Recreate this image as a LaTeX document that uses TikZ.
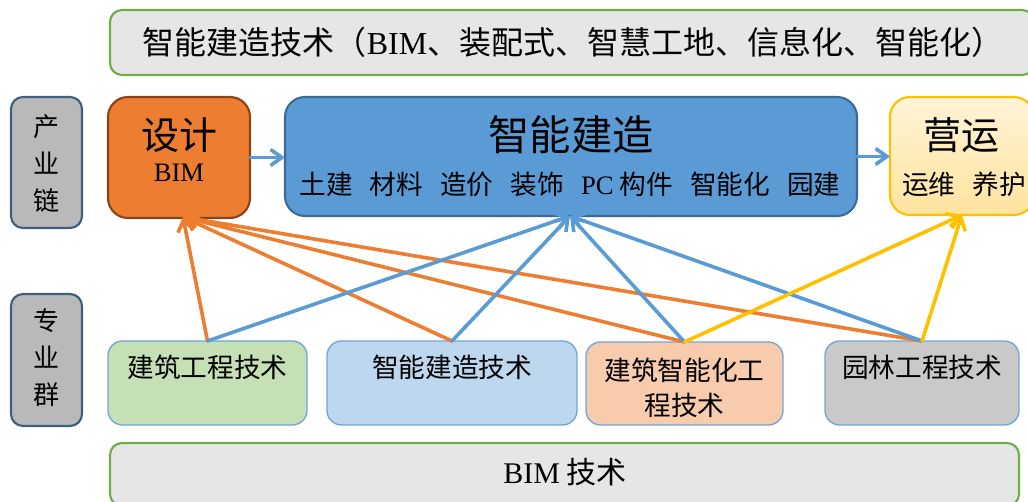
\documentclass[tikz,border=0pt]{standalone}
\usepackage{fontspec}
\setmainfont{Noto Sans CJK SC}
\newfontfamily\latin{Liberation Serif}
\usetikzlibrary{arrows.meta}

\definecolor{panelgray}{HTML}{E7E6E6}
\definecolor{panelgreen}{HTML}{70AD47}
\definecolor{sidegray}{HTML}{B9B9B9}
\definecolor{sideedge}{HTML}{3C5F82}
\definecolor{designfill}{HTML}{ED7D31}
\definecolor{designedge}{HTML}{8A4517}
\definecolor{buildfill}{HTML}{5B9BD5}
\definecolor{buildedge}{HTML}{3B6A98}
\definecolor{opstop}{HTML}{FFF4D8}
\definecolor{opsbottom}{HTML}{FFE39E}
\definecolor{opsedge}{HTML}{FFC000}
\definecolor{majoredge}{HTML}{6FA5DA}
\definecolor{civilfill}{HTML}{C5E0B4}
\definecolor{smartfill}{HTML}{BDD7EE}
\definecolor{elecfill}{HTML}{F8CBAD}
\definecolor{gardenfill}{HTML}{C9C9C9}
\definecolor{arroworange}{HTML}{ED7D31}
\definecolor{arrowblue}{HTML}{5B9BD5}
\definecolor{arrowyellow}{HTML}{FFC000}

\newcommand{\fs}[1]{\fontsize{#1}{#1}\selectfont}
\newcommand{\gap}{\hspace{0.64em}}

\tikzset{
  box/.style={inner sep=0pt, outer sep=0pt, line width=1.6pt},
  panel/.style={box, rounded corners=9pt, fill=panelgray, draw=panelgreen},
  sidebox/.style={box, rounded corners=9pt, fill=sidegray, draw=sideedge},
  majorbox/.style={box, rounded corners=11pt, draw=majoredge, line width=1pt},
  label/.style={inner sep=0pt, outer sep=0pt, text=black},
  link/.style={line width=2.7pt, line cap=round,
    -{Straight Barb[length=8.5pt,width=12pt,line width=2.7pt]}},
}

\begin{document}
\begin{tikzpicture}[x=0.75pt,y=-0.75pt]
\useasboundingbox (0,0) rectangle (1028,502);
\clip (0,0) rectangle (1028,502);

% framing technology bands
\node[panel, minimum width={924*0.75pt}, minimum height={65*0.75pt}] (tech) at (572,42.5) {};
\node[label] (techtext) at (573,42) {\fs{24pt}智能建造技术（{\latin BIM}、装配式、智慧工地、信息化、智能化）};

\node[panel, minimum width={909*0.75pt}, minimum height={63*0.75pt}] (bim) at (564.5,474.5) {};
\node[label] (bimtext) at (565,472) {\fs{22.5pt}{\latin BIM} 技术};

% side labels
\node[sidebox, minimum width={71*0.75pt}, minimum height={131*0.75pt}] (chain) at (46.5,162.5) {};
\node[label, align=center, font=\fontsize{19.5pt}{27.75pt}\selectfont] (chaintext) at (46.5,163) {产\\业\\链};
\node[sidebox, minimum width={71*0.75pt}, minimum height={132*0.75pt}] (group) at (46.5,360) {};
\node[label, align=center, font=\fontsize{19.5pt}{27.75pt}\selectfont] (grouptext) at (46.5,358) {专\\业\\群};

% industry chain
\node[box, rounded corners=15pt, fill=designfill, draw=designedge,
      minimum width={142*0.75pt}, minimum height={121*0.75pt}] (design) at (179,157.5) {};
\node[label] (designtitle) at (179,135) {\fs{28.5pt}设计};
\node[label] (designsub) at (179,173) {\fs{20pt}\latin BIM};

\node[box, rounded corners=15pt, fill=buildfill, draw=buildedge,
      minimum width={572*0.75pt}, minimum height={119*0.75pt}] (build) at (571,156.5) {};
\node[label] (buildtitle) at (571,135) {\fs{31pt}智能建造};
\node[label] (buildsub) at (570,184) {\fs{20pt}土建\gap 材料\gap 造价\gap 装饰\gap{\latin PC} 构件\gap 智能化\gap 园建};

\node[box, rounded corners=15pt, top color=opstop, bottom color=opsbottom, draw=opsedge,
      minimum width={144*0.75pt}, minimum height={118*0.75pt}] (ops) at (962,156) {};
\node[label] (opstitle) at (961,135) {\fs{28.5pt}营运};
\node[label] (opssub) at (964,184) {\fs{20pt}运维\gap 养护};

% majors
\node[majorbox, fill=civilfill, minimum width={199*0.75pt}, minimum height={84*0.75pt}] (civil) at (207.5,383) {};
\node[label] (civiltext) at (207.5,367) {\fs{20pt}建筑工程技术};
\node[majorbox, fill=smartfill, minimum width={250*0.75pt}, minimum height={84*0.75pt}] (smart) at (452,383) {};
\node[label] (smarttext) at (452,367) {\fs{20pt}智能建造技术};
\node[majorbox, fill=elecfill, minimum width={197*0.75pt}, minimum height={83*0.75pt}] (elec) at (684.5,383.5) {};
\node[label, align=center, font=\fontsize{20pt}{26.25pt}\selectfont] (electext) at (684.5,387.5) {建筑智能化工\\程技术};
\node[majorbox, fill=gardenfill, minimum width={194*0.75pt}, minimum height={84*0.75pt}] (garden) at (922,383) {};
\node[label] (gardentext) at (922,367) {\fs{20pt}园林工程技术};

% arrow targets on the chain boxes
\coordinate (designin) at (183,217);
\coordinate (buildin) at (570,216);
\coordinate (opsin) at (962,215);

% chain flow
\draw[link, arrowblue] (design.east) -- (design.east -| build.west);
\draw[link, arrowblue] (build.east) -- (build.east -| ops.west);

% majors feeding design
\draw[link, arroworange] (civil.north) -- (designin);
\draw[link, arroworange] (smart.north) -- (designin);
\draw[link, arroworange] (elec.north) -- (designin);
\draw[link, arroworange] (garden.north) -- (designin);

% majors feeding construction
\draw[link, arrowblue] (civil.north) -- (buildin);
\draw[link, arrowblue] (smart.north) -- (buildin);
\draw[link, arrowblue] (elec.north) -- (buildin);
\draw[link, arrowblue] (garden.north) -- (buildin);

% majors feeding operation
\draw[link, arrowyellow] (elec.north) -- (opsin);
\draw[link, arrowyellow] (garden.north) -- (opsin);
\end{tikzpicture}
\end{document}
